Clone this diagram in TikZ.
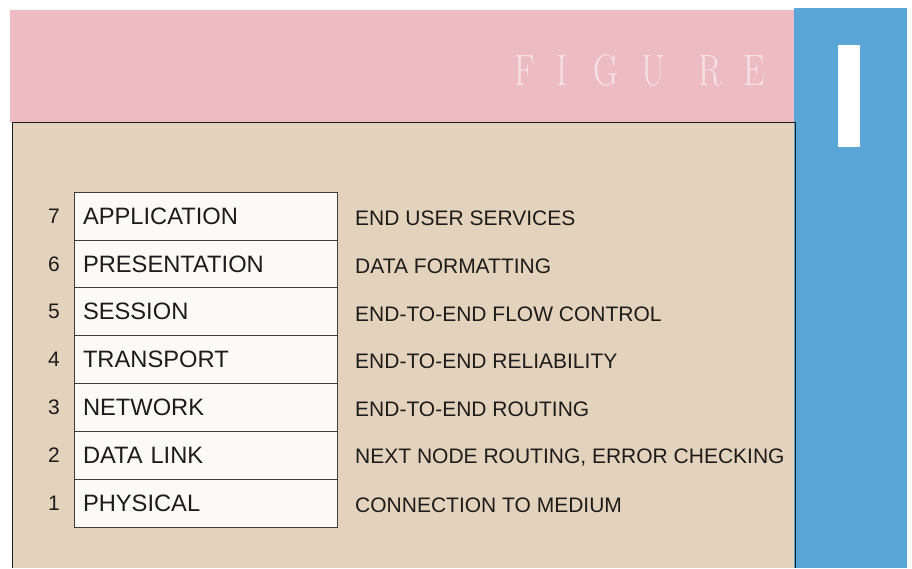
\documentclass[tikz,border=0pt]{standalone}
\usepackage{fontspec}
\newfontfamily\sansfont{Liberation Sans}
\definecolor{pinkbg}{HTML}{ECBCC2}
\definecolor{beigebg}{HTML}{E3D3BC}
\definecolor{bluebar}{HTML}{5AA7D7}
\definecolor{boxfill}{HTML}{FCFAF7}
\definecolor{ink}{HTML}{1C1C1C}
\definecolor{figtext}{HTML}{F6E2E4}
\begin{document}
\begin{tikzpicture}[x=1pt,y=-1pt,
  layer/.style={draw=ink!85, line width=0.9pt, fill=boxfill, minimum width=263pt,
    minimum height=47.9pt, inner xsep=9pt, text width=245pt, align=left,
    font=\sansfont\fontsize{23.7}{28}\selectfont, text=ink},
  num/.style={font=\sansfont\fontsize{21}{25}\selectfont, text=ink, inner sep=0pt},
  desc/.style={anchor=west, font=\sansfont\fontsize{21}{25}\selectfont, text=ink, inner sep=0pt},
  figletter/.style={anchor=base, text=figtext, inner sep=0pt,
    font=\fontsize{44}{50}\selectfont},
  frame/.style={draw=ink, line width=0.9pt}]
\useasboundingbox (0,0) rectangle (912,568);
\fill[white] (0,0) rectangle (912,568);
\fill[pinkbg] (10,10) rectangle (794,122);
\fill[beigebg] (12,122) rectangle (794,568);
\fill[bluebar] (794,8) rectangle (907,568);
\fill[white] (838,45) rectangle (860,147);
\draw[frame] (12,568) -- (12,122) -- (795,122) -- (795,568);
% FIGURE heading
\node[figletter] (f1) at (525,85) {\scalebox{0.78}[1]{F}};
\node[figletter] (f2) at (562,85) {\scalebox{0.78}[1]{I}};
\node[figletter] (f3) at (606,85) {\scalebox{0.78}[1]{G}};
\node[figletter] (f4) at (653,85) {\scalebox{0.78}[1]{U}};
\node[figletter] (f5) at (710,85) {\scalebox{0.78}[1]{R}};
\node[figletter] (f6) at (754,85) {\scalebox{0.78}[1]{E}};
% layers
\node[layer] (l7) at (205.5,216.0) {APPLICATION};
\node[layer] (l6) at (205.5,263.9) {PRESENTATION};
\node[layer] (l5) at (205.5,311.8) {SESSION};
\node[layer] (l4) at (205.5,359.7) {TRANSPORT};
\node[layer] (l3) at (205.5,407.6) {NETWORK};
\node[layer] (l2) at (205.5,455.5) {DATA LINK};
\node[layer] (l1) at (205.5,503.4) {PHYSICAL};
% numbers
\node[num] (n7) at (54,216.0) {7};
\node[num] (n6) at (54,263.9) {6};
\node[num] (n5) at (54,311.8) {5};
\node[num] (n4) at (54,359.7) {4};
\node[num] (n3) at (54,407.6) {3};
\node[num] (n2) at (54,455.5) {2};
\node[num] (n1) at (54,503.4) {1};
% descriptions
\node[desc] (d7) at (355,218.0) {END USER SERVICES};
\node[desc] (d6) at (355,265.9) {DATA FORMATTING};
\node[desc] (d5) at (355,313.8) {END-TO-END FLOW CONTROL};
\node[desc] (d4) at (355,361.7) {END-TO-END RELIABILITY};
\node[desc] (d3) at (355,409.6) {END-TO-END ROUTING};
\node[desc] (d2) at (355,457.5) {NEXT NODE ROUTING, ERROR CHECKING};
\node[desc] (d1) at (355,505.4) {CONNECTION TO MEDIUM};
\end{tikzpicture}
\end{document}
